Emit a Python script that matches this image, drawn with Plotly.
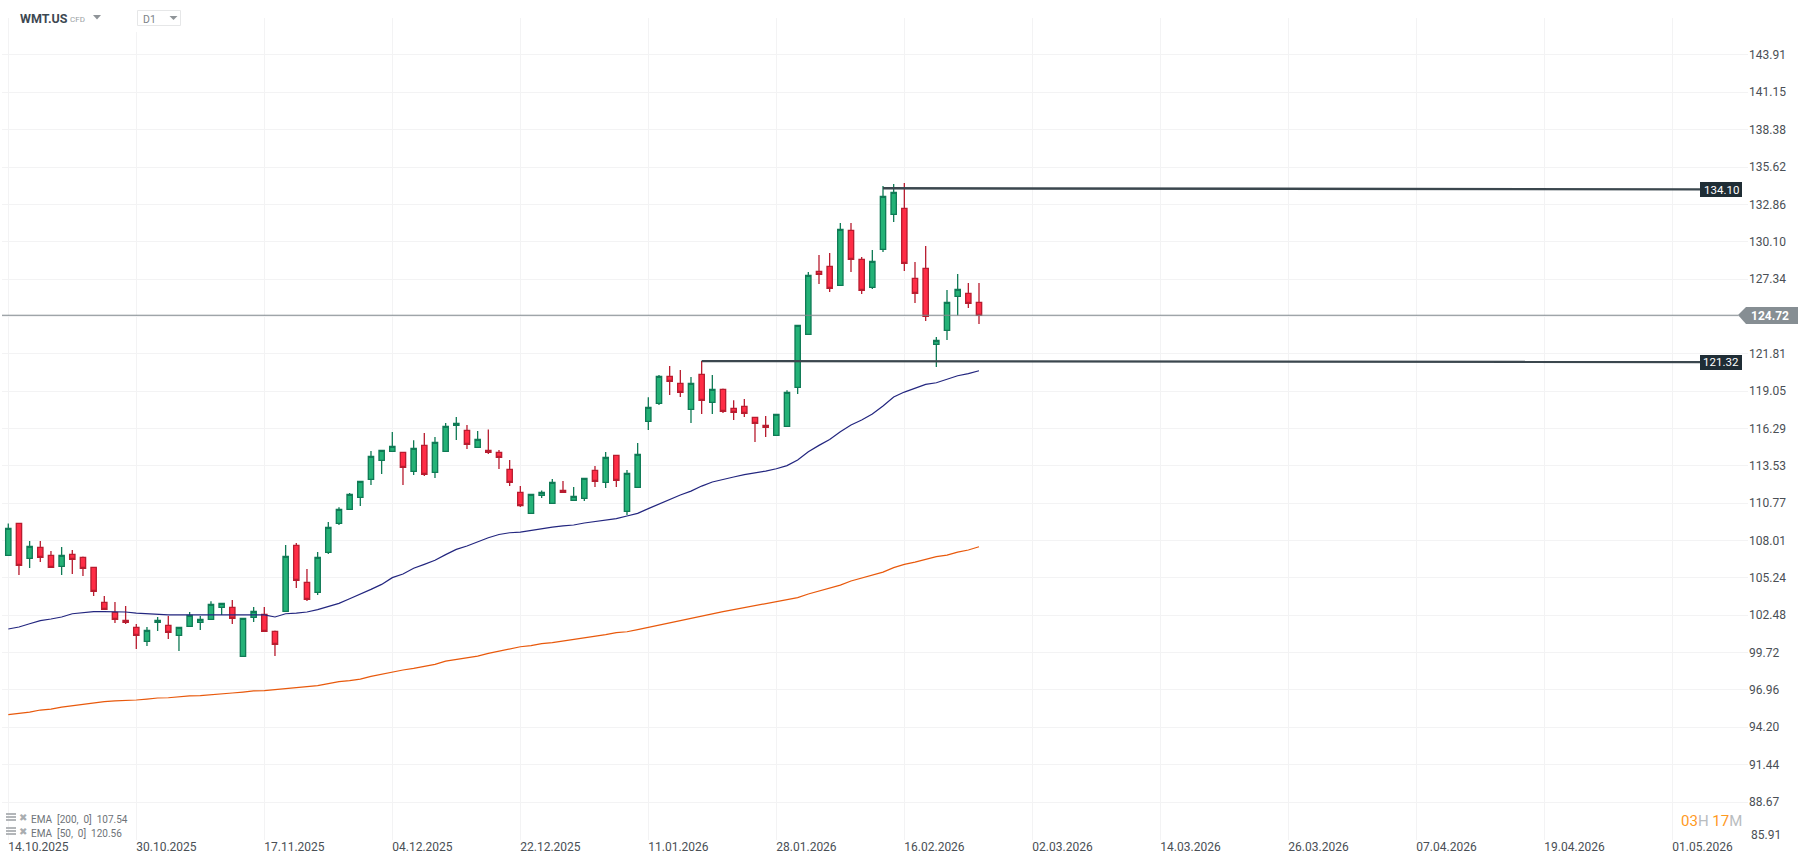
import plotly.graph_objects as go

FONT = "Roboto"
bar_index = list(range(92))
open_values = [106.91,109.27,106.69,107.50,106.91,106.09,106.98,106.76,106.02,103.43,102.69,102.10,101.58,100.55,101.95,101.73,100.99,101.66,101.95,102.17,103.06,103.06,99.44,102.32,102.54,101.29,102.77,107.65,104.91,104.17,107.13,109.27,110.31,111.20,112.53,113.93,114.60,114.52,113.12,115.04,113.04,114.60,116.52,116.15,114.89,114.67,114.52,113.27,111.57,110.01,111.34,110.75,111.71,110.97,111.12,113.19,112.30,114.30,110.16,111.94,116.81,118.15,120.14,119.62,117.70,120.29,118.22,119.18,117.78,117.92,117.11,116.52,115.78,116.44,119.33,123.25,127.91,128.27,126.87,130.94,128.79,126.72,129.53,132.12,132.56,127.39,128.13,122.51,123.54,126.06,126.28,125.61]
high_values = [109.27,109.27,107.97,107.97,107.23,107.52,107.30,106.83,106.02,103.90,103.46,103.16,101.83,101.61,102.35,102.42,101.58,102.72,102.42,103.51,103.36,103.60,102.25,103.09,103.09,101.36,107.67,107.82,105.90,107.15,109.37,110.46,111.52,112.38,114.62,114.67,116.03,114.52,115.41,115.95,115.66,116.69,117.14,116.54,116.10,116.22,114.70,113.96,112.03,111.42,111.71,112.55,112.40,111.96,112.60,113.51,114.55,114.30,113.22,115.21,118.59,120.24,120.91,120.61,120.09,121.28,120.24,119.25,118.37,118.47,117.11,117.21,117.33,119.11,123.91,127.86,129.11,129.26,131.48,131.48,128.97,129.48,134.21,134.36,134.44,128.60,129.78,123.05,126.53,127.71,127.04,127.04]
low_values = [106.91,105.45,105.97,106.41,106.02,105.45,105.53,105.38,103.90,102.91,101.90,101.83,99.98,100.20,101.31,100.72,99.83,101.66,101.39,102.17,102.49,101.83,99.44,101.98,101.29,99.46,102.77,104.49,103.53,103.97,107.00,109.15,110.31,110.55,112.11,112.92,114.60,112.11,112.85,112.77,112.63,114.60,115.44,114.77,114.89,114.40,113.29,112.03,110.48,110.01,111.15,110.75,111.57,110.97,110.92,111.96,111.89,111.96,109.89,111.94,116.17,118.02,118.76,118.61,116.69,117.36,117.36,117.43,116.91,117.14,115.29,115.66,115.78,116.44,118.84,123.25,126.97,126.38,126.87,127.86,126.23,126.60,129.33,131.55,127.93,125.56,124.23,120.83,122.83,124.65,125.19,124.01]
close_values = [108.90,106.17,107.57,106.76,106.02,106.91,106.61,105.95,104.24,102.91,102.17,101.95,100.99,101.36,102.10,101.21,101.58,102.47,102.17,103.28,103.36,102.25,102.25,102.77,101.29,100.33,106.83,105.06,103.65,106.76,108.98,110.31,111.42,112.38,114.23,114.67,114.97,113.41,114.82,112.90,115.26,116.45,116.67,115.11,115.48,114.52,114.15,112.30,110.58,111.42,111.57,112.30,111.57,111.27,112.60,112.38,114.15,112.45,112.97,114.38,117.85,120.14,119.77,118.96,119.62,118.37,119.18,117.55,117.48,117.41,116.67,116.37,117.33,118.96,123.91,127.61,127.68,126.65,131.01,128.79,126.50,128.64,133.45,133.75,128.50,126.28,124.58,122.80,125.61,126.57,125.54,124.65]
ema50 = [101.46,101.61,101.85,102.08,102.20,102.35,102.59,102.67,102.74,102.74,102.74,102.72,102.64,102.59,102.57,102.50,102.50,102.50,102.50,102.50,102.50,102.50,102.50,102.50,102.50,102.35,102.59,102.64,102.72,102.89,103.11,103.36,103.70,104.02,104.39,104.76,105.26,105.53,105.95,106.24,106.54,106.96,107.35,107.60,107.92,108.21,108.45,108.58,108.63,108.76,108.85,109.00,109.08,109.15,109.30,109.40,109.50,109.62,109.82,110.01,110.36,110.70,111.07,111.37,111.66,112.03,112.33,112.53,112.70,112.87,112.99,113.14,113.31,113.54,113.96,114.57,115.04,115.48,116.05,116.54,116.91,117.36,117.95,118.61,118.98,119.28,119.55,119.67,119.92,120.19,120.34,120.56]
ema200 = [95.13,95.22,95.32,95.47,95.54,95.69,95.79,95.91,96.01,96.09,96.14,96.16,96.21,96.28,96.36,96.38,96.46,96.51,96.53,96.58,96.65,96.73,96.80,96.88,96.90,96.97,97.05,97.12,97.20,97.27,97.42,97.57,97.64,97.76,97.96,98.13,98.30,98.43,98.55,98.70,98.85,99.09,99.22,99.34,99.46,99.66,99.83,99.96,100.15,100.23,100.38,100.45,100.57,100.70,100.82,100.89,101.04,101.19,101.26,101.41,101.58,101.76,101.90,102.08,102.27,102.45,102.59,102.74,102.89,103.04,103.16,103.31,103.46,103.60,103.78,104.05,104.27,104.49,104.71,105.01,105.23,105.45,105.67,106.00,106.24,106.41,106.61,106.81,106.93,107.15,107.30,107.54]

y_ticks = [143.91,141.15,138.38,135.62,132.86,130.10,127.34,124.58,121.81,119.05,116.29,113.53,110.77,108.01,105.24,102.48,99.72,96.96,94.20,91.44,88.67,85.91]
y_labels = ["143.91","141.15","138.38","135.62","132.86","130.10","127.34","","121.81","119.05","116.29","113.53","110.77","108.01","105.24","102.48","99.72","96.96","94.20","91.44","88.67",""]
bottom_label = "85.91"
x_ticks = [0,12,24,36,48,60,72,84,96,108,120,132,144,156]
x_labels = ["14.10.2025","30.10.2025","17.11.2025","04.12.2025","22.12.2025","11.01.2026","28.01.2026","16.02.2026","02.03.2026","14.03.2026","26.03.2026","07.04.2026","19.04.2026","01.05.2026"]

upper_level_x = [82, 158.6]
upper_level_y = [134.05, 133.97]
lower_level_x = [65, 158.6]
lower_level_y = [121.27, 121.20]
last_x = [-0.59, 162.2]
last_y = [124.66, 124.66]

W, H = 1810, 865
L, R, T, B = 2, 1748, 18, 840
def px(v): return (v - L) / (R - L)
def py(v): return (B - v) / (B - T)

fig = go.Figure()
fig.add_trace(go.Candlestick(
    x=bar_index, open=open_values, high=high_values, low=low_values, close=close_values,
    increasing=dict(line=dict(color="#0f7a55", width=1.3), fillcolor="#24b277"),
    decreasing=dict(line=dict(color="#b81c2f", width=1.3), fillcolor="#ff2d46"),
    whiskerwidth=0, showlegend=False, hoverinfo="skip"))
fig.add_trace(go.Scatter(x=bar_index, y=ema50, mode="lines", line=dict(color="#23267f", width=1.2), showlegend=False))
fig.add_trace(go.Scatter(x=bar_index, y=ema200, mode="lines", line=dict(color="#e8590c", width=1.2), showlegend=False))
fig.add_trace(go.Scatter(x=last_x, y=last_y, mode="lines", line=dict(color="#7f878c", width=1.2), showlegend=False))
for xs, ys in ((upper_level_x, upper_level_y), (lower_level_x, lower_level_y)):
    fig.add_trace(go.Scatter(x=xs, y=ys, mode="lines", line=dict(color="#3b474e", width=2.4), showlegend=False))

def rect(x0, y0, x1, y1, fill, line=None):
    return dict(type="rect", xref="paper", yref="paper", x0=px(x0), x1=px(x1), y0=py(y1), y1=py(y0),
                fillcolor=fill, line=dict(color=line or fill, width=1 if line else 0), layer="above")
def tri(x0, x1, y0, y1, fill):
    xm = (x0 + x1) / 2
    return dict(type="path", xref="paper", yref="paper",
                path=f"M{px(x0)},{py(y0)} L{px(x1)},{py(y0)} L{px(xm)},{py(y1)} Z",
                fillcolor=fill, line=dict(width=0), layer="above")

shapes = [
    rect(130, 17, 145, 32, "#ffffff"),
    rect(137.5, 10.5, 180.5, 25.5, "#ffffff", "#e6e7e8"),
    tri(93, 101, 15, 19.5, "#8f9498"),
    tri(169.5, 177.5, 16, 20, "#8f9498"),
    dict(type="path", xref="paper", yref="paper",
         path=f"M{px(1738)},{py(315)} L{px(1746)},{py(307)} L{px(1798)},{py(307)} L{px(1798)},{py(324)} L{px(1746)},{py(324)} Z",
         fillcolor="#868e93", line=dict(width=0), layer="above"),
    rect(1700, 182, 1742, 197, "#1f2d35"),
    rect(1700, 355, 1742, 370, "#1f2d35"),
]
for top in (813, 827):
    for off in (0, 3, 6):
        shapes.append(rect(6, top + off, 16, top + off + 2, "#b3b6b9"))

def note(x, y, text, size, color, anchor="left", family=FONT):
    return dict(xref="paper", yref="paper", x=px(x), y=py(y), text=text, showarrow=False,
                xanchor=anchor, yanchor="middle", font=dict(family=family, size=size, color=color),
                align="left", borderpad=0, borderwidth=0)

annotations = [
    note(20, 18.5, "<b>WMT.US</b>", 12.5, "#3d4852"),
    note(70, 19.5, "CFD", 8, "#9a9fa4"),
    note(143, 19, "D1", 10.5, "#7d8388"),
    note(1721, 189.5, "134.10", 11.5, "#ffffff", "center"),
    note(1721, 362.5, "121.32", 11.5, "#ffffff", "center"),
    note(1750.5, 315.5, "<b>124.72</b>", 12, "#ffffff"),
    note(1750.5, 835, bottom_label, 12, "#4a4f55"),
    note(31, 819.5, "EMA  [200,  0]  107.54", 10, "#6e7378"),
    note(31, 833.5, "EMA  [50,  0]  120.56", 10, "#6e7378"),
    note(19, 817, "✖", 10, "#a9adb0", family="DejaVu Sans"),
    note(19, 831, "✖", 10, "#a9adb0", family="DejaVu Sans"),
    note(1681, 820.5,
         '<span style="color:#ff9a1f">03</span><span style="color:#b9bdc0">H</span>'
         '<span style="color:#ff9a1f"> 17</span><span style="color:#b9bdc0">M</span>', 15, "#b9bdc0"),
]

fig.update_layout(
    width=W, height=H, autosize=False,
    margin=dict(l=L, r=W - R, t=T, b=H - B, pad=0),
    paper_bgcolor="#ffffff", plot_bgcolor="#ffffff",
    showlegend=False, hovermode=False, boxgap=0.5, boxgroupgap=0,
    shapes=shapes, annotations=annotations,
    font=dict(family=FONT, size=12, color="#4a4f55"),
    xaxis=dict(range=[-0.59, 163.09], tickmode="array", tickvals=x_ticks, ticktext=x_labels,
               ticklabelposition="outside right", ticklabelstandoff=-2, showgrid=True, gridcolor="#f3f3f4", gridwidth=1,
               zeroline=False, showline=False, ticks="", rangeslider=dict(visible=False),
               tickfont=dict(family=FONT, size=12, color="#4a4f55"), tickangle=0),
    yaxis=dict(range=[85.86, 146.64], side="right", tickmode="array", tickvals=y_ticks, ticktext=y_labels,
               showgrid=True, gridcolor="#f3f3f4", gridwidth=1, zeroline=False, showline=False, ticks="",
               tickfont=dict(family=FONT, size=12, color="#4a4f55")),
)

fig.write_html("out.html", config={"displayModeBar": False},
               post_script="document.body.style.margin='0';document.body.style.overflow='hidden';")
